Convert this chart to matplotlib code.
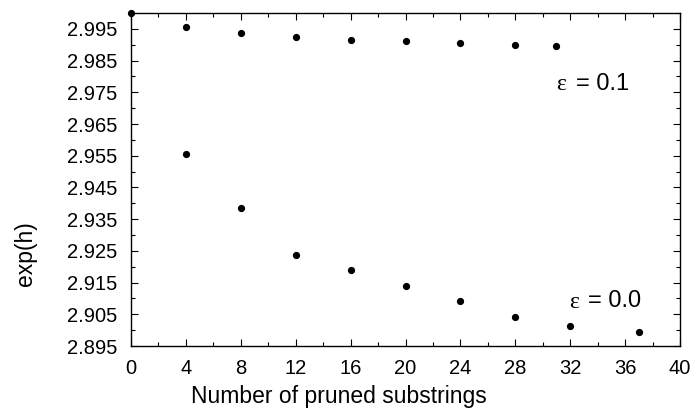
import matplotlib
matplotlib.use("Agg")
import matplotlib.pyplot as plt
from matplotlib.ticker import MultipleLocator, FormatStrFormatter

x_eps01 = [0, 4, 8, 12, 16, 20, 24, 28, 31]
y_eps01 = [3.0000, 2.9957, 2.9938, 2.9923, 2.9916, 2.9911, 2.9905, 2.9900, 2.9895]
x_eps00 = [4, 8, 12, 16, 20, 24, 28, 32, 37]
y_eps00 = [2.9554, 2.9384, 2.9237, 2.9189, 2.9139, 2.9093, 2.9040, 2.9014, 2.8995]
xticks = [0, 4, 8, 12, 16, 20, 24, 28, 32, 36, 40]
yticks = [2.895, 2.905, 2.915, 2.925, 2.935, 2.945, 2.955, 2.965, 2.975, 2.985, 2.995]

plt.rcParams['font.family'] = ['Liberation Sans', 'DejaVu Sans']

W, H = 691, 412
fig = plt.figure(figsize=(W/100, H/100), dpi=100)
ax = fig.add_axes([131/W, 1-346/H, (680-131)/W, (346-13)/H])

ax.plot(x_eps01, y_eps01, 'o', color='black', markersize=4.2, clip_on=False)
ax.plot(x_eps00, y_eps00, 'o', color='black', markersize=4.2, clip_on=False)

ax.set_xlim(0, 40)
ax.set_ylim(2.895, 3.0)
ax.set_xticks(xticks)
ax.set_yticks(yticks)
ax.xaxis.set_minor_locator(MultipleLocator(2))
ax.yaxis.set_minor_locator(MultipleLocator(0.005))
ax.yaxis.set_major_formatter(FormatStrFormatter('%.3f'))
ax.tick_params(which='both', direction='in', top=True, right=True, labelsize=14.5, width=0.8)
ax.tick_params(which='major', length=5)
ax.tick_params(which='minor', length=3)
ax.tick_params(axis='y', pad=10)
ax.tick_params(axis='x', pad=9)
for s in ax.spines.values():
    s.set_linewidth(1.0)

def fx(px):
    return px / W

def fy(py):
    return 1 - py / H

fig.text(fx(561), fy(85), 'ε', fontsize=17, ha='center', va='center', family=['Liberation Serif'])
fig.text(fx(576), fy(84), '= 0.1', fontsize=17, ha='left', va='center')
fig.text(fx(574), fy(302), 'ε', fontsize=17, ha='center', va='center', family=['Liberation Serif'])
fig.text(fx(588), fy(301), '= 0.0', fontsize=17, ha='left', va='center')

fig.text(fx(339), fy(397), 'Number of pruned substrings', fontsize=16.5, ha='center', va='center')
fig.text(fx(26), fy(254), 'exp(h)', fontsize=16.5, ha='center', va='center', rotation=90)

fig.savefig('out.png', dpi=100)
